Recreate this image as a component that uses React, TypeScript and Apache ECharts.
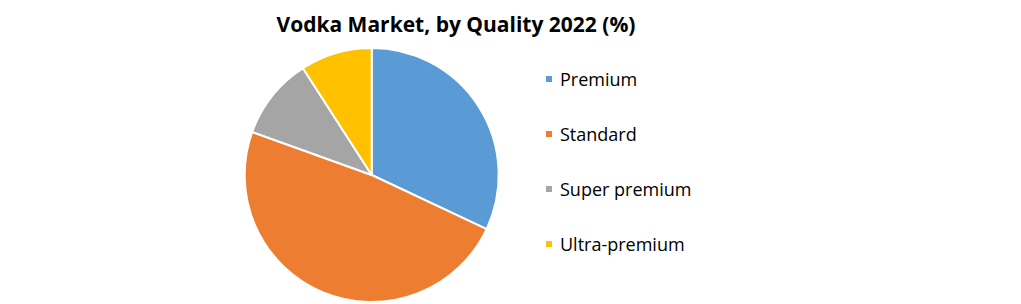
import React, { useEffect, useRef } from "react";
import * as echarts from "echarts";

const categories = ["Premium", "Standard", "Super premium", "Ultra-premium"];
const shares = [32.0, 48.5, 10.4, 9.1];
const colors = ["#5B9BD5", "#ED7D31", "#A5A5A5", "#FFC000"];
const titleText = "Vodka Market, by Quality 2022 (%)";

export default function App() {
  const ref = useRef<HTMLDivElement>(null);
  useEffect(() => {
    if (!ref.current) return;
    const chart = echarts.init(ref.current, undefined, { renderer: "svg" });
    chart.setOption({
      animation: false,
      backgroundColor: "#ffffff",
      title: {
        text: titleText,
        left: 451,
        textAlign: "center",
        top: 8,
        textStyle: {
          fontFamily: "Open Sans",
          fontSize: 21,
          fontWeight: "bold",
          color: "#000000",
        },
      },
      legend: {
        orient: "vertical",
        left: 544,
        top: 68,
        padding: 0,
        icon: "rect",
        itemWidth: 8,
        itemHeight: 8,
        itemGap: 33,
        textStyle: {
          fontFamily: "Open Sans",
          fontSize: 18,
          lineHeight: 22,
          color: "#000000",
          padding: [0, 0, 0, 2],
        },
        data: categories,
      },
      series: [
        {
          type: "pie",
          center: [371.7, 175],
          radius: 127,
          startAngle: 90,
          clockwise: true,
          label: { show: false },
          labelLine: { show: false },
          emphasis: { disabled: true },
          itemStyle: { borderColor: "#ffffff", borderWidth: 2 },
          data: categories.map((name, i) => ({
            name,
            value: shares[i],
            itemStyle: { color: colors[i] },
          })),
        },
      ],
    });
    return () => chart.dispose();
  }, []);
  return <div ref={ref} style={{ width: 1021, height: 304, position: "absolute", left: 0, top: 0 }} />;
}
